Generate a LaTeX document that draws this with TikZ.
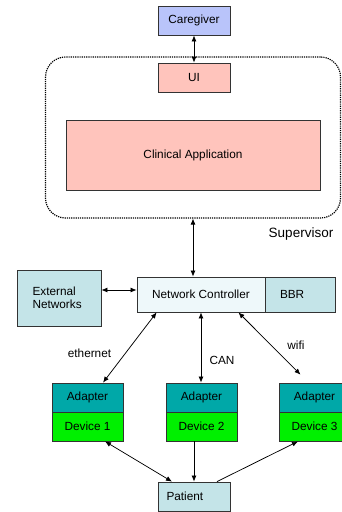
\documentclass[tikz,border=0pt]{standalone}
\usepackage{fontspec}
\setmainfont{Liberation Sans}
\usetikzlibrary{arrows.meta}

\definecolor{cgblue}{RGB}{185,196,250}
\definecolor{appred}{RGB}{255,196,188}
\definecolor{netcyan}{RGB}{196,228,232}
\definecolor{ctrlcyan}{RGB}{238,248,250}
\definecolor{adpteal}{RGB}{0,168,168}
\definecolor{devgreen}{RGB}{0,240,0}

\begin{document}
\begin{tikzpicture}[x=1pt,y=-1pt,
    font=\fontsize{11.8}{13.5}\selectfont,
    >={Latex[length=6pt,width=5pt]},
    box/.style={draw=black!80,line width=0.8pt,inner sep=0pt,
      minimum width=#1},
    box/.default=72,
    conn/.style={line width=0.75pt}]

  \useasboundingbox (0,0) rectangle (342,512);

  % supervisor
  \node[draw,line width=1.2pt,dash pattern=on 1.2pt off 1pt,rounded corners=20pt,
        minimum width=295,minimum height=161] (sup) at (193,137.5) {};
  \node[font=\fontsize{13.5}{15}\selectfont] (suplabel) at (301,234) {Supervisor};

  \begin{scope}[every node/.style={box,minimum height=29}]
    \node[fill=cgblue] (cg) at (194,20.5) {Caregiver};
    \node[fill=appred] (ui) at (194,77.5) {\raisebox{-4pt}{UI}};
    \node[box=254,fill=appred,minimum height=70] (app) at (193,155) {Clinical Application};
  \end{scope}

  % network
  \node[box=128,fill=ctrlcyan,minimum height=35] (nc) at (201,294.5) {Network Controller};
  \node[box,fill=netcyan,minimum width=0,text width=40,inner xsep=15,
        minimum height=35,align=left] (bbr) at (300,294.5) {BBR};
  \node[box,fill=netcyan,minimum width=0,text width=53,inner xsep=15.5,
        minimum height=56,align=left] (ext) at (59,298) {External\\Networks};

  % devices
  \begin{scope}[every node/.style={box=71,minimum height=29}]
    \node[fill=adpteal] (ad1) at (87.5,397.5) {Adapter};
    \node[fill=devgreen] (dev1) at (87.5,426.5) {Device 1};
    \node[fill=adpteal] (ad2) at (201.5,397.5) {Adapter};
    \node[fill=devgreen] (dev2) at (201.5,426.5) {Device 2};
    \node[fill=adpteal] (ad3) at (314.5,397.5) {Adapter};
    \node[fill=devgreen] (dev3) at (314.5,426.5) {Device 3};
  \end{scope}

  \node[box,fill=netcyan,minimum width=0,text width=55,inner xsep=8.5,
        minimum height=29,align=left] (pat) at (194,496.5) {Patient};

  % labels
  \node (eth) at (89.5,353) {ethernet};
  \node (can) at (222,360) {CAN};
  \node (wifi) at (296,345) {wifi};

  \begin{scope}[every path/.style={conn}]
    \draw[<->] (cg.south) -- (ui.north);
    \draw[<->] (sup.south) -- (sup.south |- nc.north);
    \draw[<->] ([yshift=8pt]ext.east) -- ([yshift=8pt]ext.east -| nc.west);
    \draw[<->] ([xshift=20pt]nc.south west) -- ([xshift=15.5pt]ad1.north);
    \draw[<->] (nc.south) -- (nc.south |- ad2.north);
    \draw[<->] ([xshift=-27pt]nc.south east) -- ([xshift=-14pt,yshift=8pt]ad3.north);
    \draw[<->] ([xshift=17.5pt]dev1.south) -- ([xshift=-22pt]pat.north);
    \draw[->] (pat.north |- dev2.south) -- (pat.north);
    \draw[->] ([xshift=23pt]pat.north) -- ([xshift=-16.5pt]dev3.south);
  \end{scope}

\end{tikzpicture}
\end{document}
